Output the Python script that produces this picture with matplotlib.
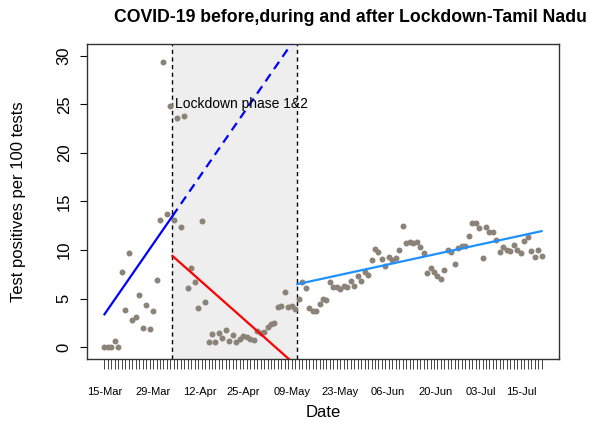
import numpy as np
import matplotlib
matplotlib.use("Agg")
import matplotlib.pyplot as plt

plt.rcParams['font.family'] = ['Liberation Sans', 'DejaVu Sans']

# daily test positivity (per 100 tests), one value per day, index 0 = 15-Mar
tpr = [0, 0, 0, 0.68, 0, 7.7, 3.8, 9.7, 2.77, 3.15,
       5.4, 2.0, 4.4, 1.88, 3.73, 6.88, 13.1, 29.3, 13.75, 24.8,
       13.1, 23.6, 12.4, 23.75, 6.1, 8.2, 6.75, 4.07, 13.0, 4.7,
       0.5, 1.4, 0.58, 1.5, 0.92, 1.8, 0.68, 1.3, 0.55, 0.85,
       1.13, 1.03, 0.9, 0.72, 1.7, 1.43, 1.57, 2.1, 2.35, 2.5,
       4.1, 4.3, 5.7, 4.1, 4.3, 3.96, 5.0, 6.7, 6.1, 4.07,
       3.7, 3.7, 4.5, 5.0, 4.86, 6.7, 6.2, 6.2, 6.05, 6.35,
       6.2, 6.85, 6.3, 7.3, 6.85, 7.7, 7.45, 9.0, 10.15, 9.8,
       9.1, 8.4, 9.25, 9.03, 9.17, 10.05, 12.5, 10.7, 10.85, 10.7,
       10.8, 10.3, 9.7, 7.6, 8.17, 7.76, 7.3, 6.98, 7.94, 10.0,
       9.8, 8.6, 10.2, 10.45, 10.45, 11.4, 12.8, 12.8, 12.3, 9.17,
       12.4, 11.85, 11.85, 11.0, 9.8, 10.37, 10.0, 9.93, 10.5, 10.0,
       9.7, 10.9, 11.3, 9.93, 9.3, 10.0, 9.37]
days = np.arange(len(tpr))

# lockdown phase 1&2 boundaries (day index)
lock_start = 19.6
lock_end = 55.6

# fitted trend segments
pre_x, pre_y = [0, 19.6], [3.4, 13.5]
cf_x, cf_y = [19.6, 56], [13.5, 32.3]
lock_x, lock_y = [19.6, 56], [9.4, -2.1]
post_x, post_y = [55.6, 126], [6.5, 11.95]

date_pos = [0, 14, 27.6, 40, 54, 68, 81.7, 95.4, 108.5, 120.1]
date_labels = ['15-Mar', '29-Mar', '12-Apr', '25-Apr', '09-May',
               '23-May', '06-Jun', '20-Jun', '03-Jul', '15-Jul']

fig = plt.figure(figsize=(5.91, 4.23), dpi=100)
ax = fig.add_axes([87/591, 1-359/423, 472/591, 315/423])

ax.axvspan(lock_start, lock_end, color='#EEEEEE', zorder=0, lw=0)
for xv in (lock_start, lock_end):
    ax.axvline(xv, color='black', ls=(0, (3, 2.5)), lw=1, zorder=1)

ax.plot(days, tpr, 'o', color='#8B8378', ms=4.3, mec='none', zorder=2)

ax.plot(pre_x, pre_y, color='blue', lw=1.6, zorder=3)
ax.plot(cf_x, cf_y, color='blue', lw=1.6, ls=(0, (4, 2.7)), zorder=3)
ax.plot(lock_x, lock_y, color='red', lw=1.6, zorder=3)
ax.plot(post_x, post_y, color='#1E90FF', lw=1.6, zorder=3)

ax.text(lock_start + 0.6, 25.05, 'Lockdown phase 1&2', fontsize=10,
        va='center', ha='left', zorder=4)

n = len(tpr)
ax.set_xlim(-0.04*(n-1), (n-1)*1.04)
ax.set_ylim(-1.2, 31.2)

ax.set_yticks(range(0, 31, 5))
ax.set_yticklabels([str(v) for v in range(0, 31, 5)], rotation=90, va='center',
                   fontsize=12)
ax.tick_params(axis='y', length=5, width=0.8, pad=6)

ax.xaxis.remove_overlapping_locs = False
ax.set_xticks(days)
ax.set_xticklabels([])
ax.tick_params(axis='x', which='major', length=7.5, width=0.7, color='#444444')
ax.set_xticks(date_pos, date_labels, minor=True)
ax.tick_params(axis='x', which='minor', length=0, pad=20.5, labelsize=8)

for s in ax.spines.values():
    s.set_linewidth(1)
    s.set_color('#333333')

ax.set_ylabel('Test positives per 100 tests', fontsize=12)
ax.yaxis.set_label_coords(-0.13, 0.5)
ax.set_xlabel('Date', fontsize=12)
ax.xaxis.set_label_coords(0.5, -0.171)
ax.xaxis.label.set_va('center')

fig.text(350/591, 1-18/423, 'COVID-19 before,during and after Lockdown-Tamil Nadu',
         fontsize=12.7, fontweight='bold', ha='center', va='center')

fig.savefig('out.png', dpi=100)
